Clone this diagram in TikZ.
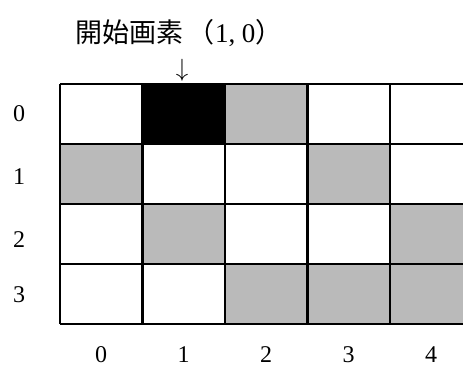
\documentclass[tikz,border=0pt]{standalone}
\usepackage{fontspec}
\newfontfamily\cjk{Noto Sans CJK JP}
\setmainfont{Liberation Serif}
\begin{document}
\begin{tikzpicture}[x=1pt,y=-1pt,
  cellgray/.style={fill=black!27},
  cellblack/.style={fill=black},
  gridline/.style={line width=2.2pt},
  lbl/.style={font=\fontsize{24}{28}\selectfont, inner sep=0pt}]
\clip (0,0) rectangle (463,369);
\fill[white] (0,0) rectangle (463,369);
% filled cells: (col,row)
\foreach \c/\r in {2/0,0/1,3/1,1/2,4/2,2/3,3/3,4/3}
  \path[cellgray] ({60+82.5*\c},{84+60*\r}) rectangle ({60+82.5*(\c+1)},{84+60*(\r+1)});
\path[cellblack] (142.5,84) rectangle (225,144);
% grid
\foreach \c in {0,...,5}
  \draw[gridline] ({60+82.5*\c},84) -- ({60+82.5*\c},324);
\foreach \r in {0,...,4}
  \draw[gridline] (60,{84+60*\r}) -- (480,{84+60*\r});
% row labels
\foreach \r/\y in {0/114,1/177,2/240,3/295}
  \node[lbl] (row\r) at (19,\y) {\r};
% column labels
\foreach \c in {0,...,4}
  \node[lbl] (col\c) at ({101+82.5*\c},355) {\c};
% title
\node[inner sep=0pt, font=\fontsize{27}{30}\selectfont] (title) at (179,33)
  {{\cjk 開始画素\,（}1,\ 0{\cjk ）}};
\node[inner sep=0pt, font=\fontsize{26}{28}\selectfont] (arrow) at (182,70) {$\downarrow$};
\end{tikzpicture}
\end{document}
